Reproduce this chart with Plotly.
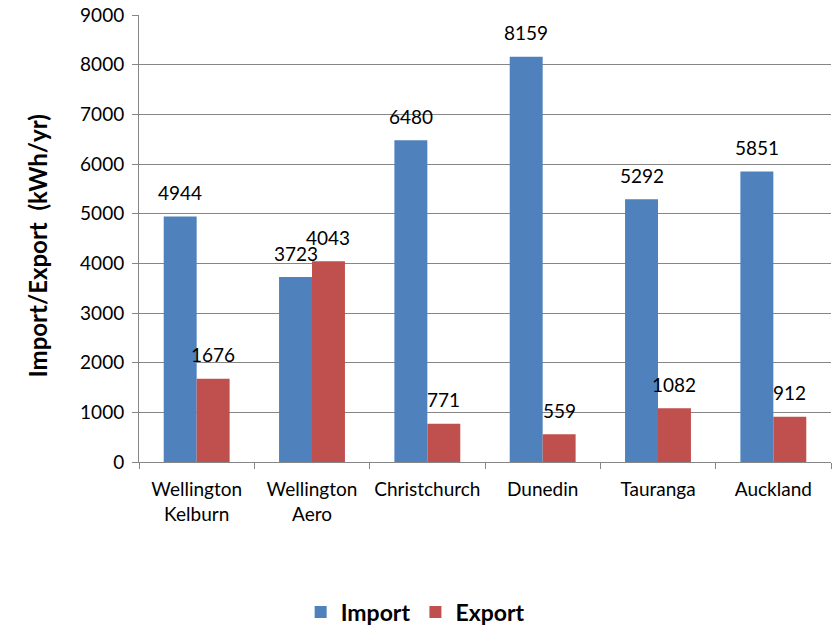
import plotly.graph_objects as go

# Annual grid import/export per location (kWh/yr)
locations = ["Wellington<br>Kelburn", "Wellington<br>Aero", "Christchurch",
             "Dunedin", "Tauranga", "Auckland"]
import_kwh = [4944, 3723, 6480, 8159, 5292, 5851]
export_kwh = [1676, 4043, 771, 559, 1082, 912]

BLUE = "#4F81BD"
RED = "#C0504D"
GRID = "#868686"
FONT = "Lato, Carlito, Calibri, sans-serif"

fig = go.Figure()
fig.add_trace(go.Bar(name="Import", x=locations, y=import_kwh,
                     marker=dict(color=BLUE, line=dict(width=0))))
fig.add_trace(go.Bar(name="Export", x=locations, y=export_kwh,
                     marker=dict(color=RED, line=dict(width=0))))

# value labels sitting above each bar
plot_w = 837 - 139 - 6
group_w = plot_w / len(locations)
bar_w = group_w / 3.5
annotations = []
for series, shift in ((import_kwh, -bar_w / 2), (export_kwh, bar_w / 2)):
    for loc, val in zip(locations, series):
        annotations.append(dict(
            x=loc, y=val, xref="x", yref="y", text=str(val),
            showarrow=False, xshift=shift, yshift=24,
            xanchor="center", yanchor="middle",
            font=dict(family=FONT, size=19, color="#000000"),
        ))

# vertical axis title
annotations.append(dict(
    text="<b>Import/Export  (kWh/yr)</b>", xref="paper", yref="paper",
    x=-0.147, y=0.483, xanchor="center", yanchor="middle",
    textangle=-90, showarrow=False,
    font=dict(family=FONT, size=24, color="#000000"),
))

fig.update_layout(
    width=837, height=627,
    margin=dict(l=139, r=6, t=15, b=165, autoexpand=False),
    paper_bgcolor="white", plot_bgcolor="white",
    barmode="group", bargap=1.5 / 3.5, bargroupgap=0,
    font=dict(family=FONT, size=19, color="#000000"),
    annotations=annotations,
    showlegend=True,
    legend=dict(orientation="h", xref="container", yref="container",
                x=0.496, xanchor="center", y=0.024, yanchor="middle",
                font=dict(family=FONT, size=23, color="#000000", weight="bold"),
                itemwidth=30, traceorder="normal"),
)
fig.update_xaxes(
    showline=True, linecolor=GRID, linewidth=1,
    ticks="outside", ticklen=6, tickcolor=GRID, tickson="boundaries",
    tickfont=dict(family=FONT, size=19), ticklabelstandoff=10,
    showgrid=False, automargin=False,
)
fig.update_yaxes(
    range=[0, 9000], dtick=1000, tick0=0,
    showline=True, linecolor=GRID, linewidth=1,
    ticks="outside", ticklen=6, tickcolor=GRID,
    showgrid=True, gridcolor=GRID, gridwidth=1,
    zeroline=False, automargin=False,
    tickfont=dict(family=FONT, size=19), ticklabelstandoff=4,
)

fig.write_html("out.html")
